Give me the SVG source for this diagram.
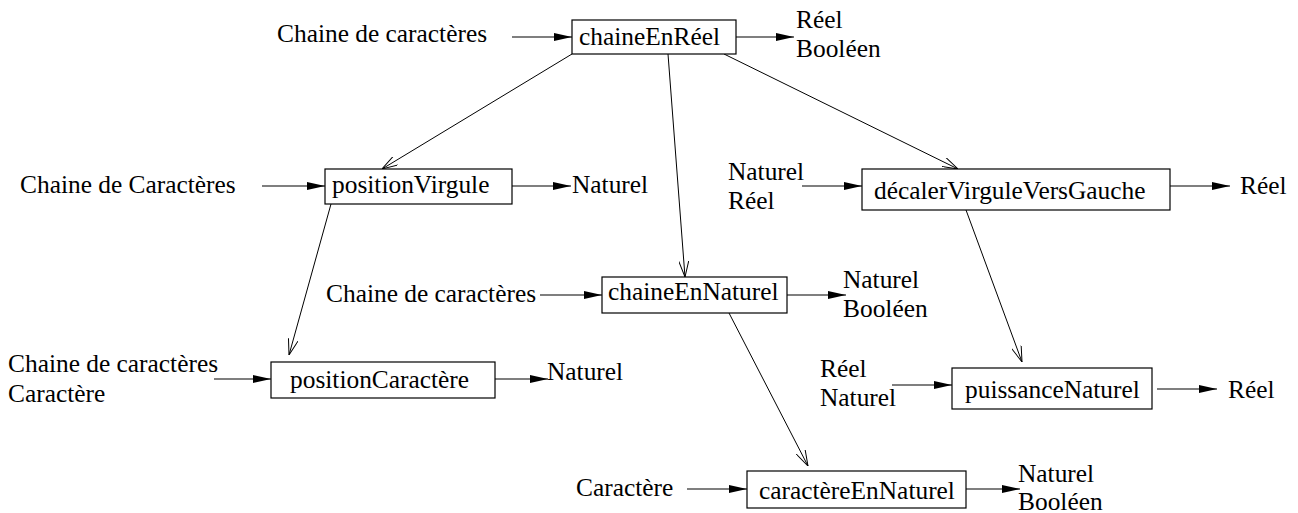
<svg xmlns="http://www.w3.org/2000/svg" width="1298" height="513" viewBox="0 0 1298 513">
<defs>
<marker id="fill" viewBox="0 0 18 8" refX="18" refY="4" markerWidth="18" markerHeight="8" markerUnits="userSpaceOnUse" orient="auto">
<path d="M0,0 L18,4 L0,8 Z" fill="#000"/>
</marker>
<marker id="open" viewBox="0 0 16 10" refX="16" refY="5" markerWidth="16" markerHeight="10" markerUnits="userSpaceOnUse" orient="auto">
<path d="M0,0 L16,5 L0,10" fill="none" stroke="#000" stroke-width="1"/>
</marker>
</defs>
<style>
.b{fill:#fff;stroke:#000;stroke-width:1.2}
.d{stroke:#000;stroke-width:1.2;fill:none;marker-end:url(#fill)}
.k{stroke:#000;stroke-width:1;fill:none;marker-end:url(#open)}
</style>
<rect width="1298" height="513" style="fill:#fff;stroke:none"/>
<g id="connectors">
<line class="d" x1="512" y1="37" x2="572" y2="37"/>
<line class="d" x1="736" y1="37" x2="794" y2="37"/>
<line class="d" x1="262" y1="186" x2="325" y2="186"/>
<line class="d" x1="512" y1="186" x2="571" y2="186"/>
<line class="d" x1="802" y1="186" x2="862" y2="186"/>
<line class="d" x1="1170" y1="186" x2="1230" y2="186"/>
<line class="d" x1="540" y1="295" x2="602" y2="295"/>
<line class="d" x1="787" y1="295" x2="846" y2="295"/>
<line class="d" x1="214" y1="379" x2="271" y2="379"/>
<line class="d" x1="495" y1="379" x2="548" y2="379"/>
<line class="d" x1="892" y1="385" x2="952" y2="385"/>
<line class="d" x1="1157" y1="389" x2="1217" y2="389"/>
<line class="d" x1="687" y1="489" x2="747" y2="489"/>
<line class="d" x1="966" y1="489" x2="1020" y2="489"/>
<line class="k" x1="572" y1="54" x2="382" y2="169"/>
<line class="k" x1="668" y1="54" x2="685" y2="277"/>
<line class="k" x1="724" y1="54" x2="958" y2="169"/>
<line class="k" x1="331" y1="204" x2="289" y2="355"/>
<line class="k" x1="966" y1="210" x2="1022" y2="362"/>
<line class="k" x1="729" y1="313" x2="808" y2="466"/>
</g>
<g font-family="Liberation Serif, Times New Roman, serif" font-size="25.4" fill="#000">
<g id="chaineEnReel">
<rect class="b" x="572" y="20" width="164" height="34"/>
<text x="579" y="45">chaineEnRéel</text>
<text x="277" y="42">Chaine de caractères</text>
<text x="796" y="28">Réel</text>
<text x="796" y="57">Booléen</text>
</g>
<g id="positionVirgule">
<rect class="b" x="325" y="169" width="187" height="35"/>
<text x="332" y="193">positionVirgule</text>
<text x="20" y="193">Chaine de Caractères</text>
<text x="572" y="193">Naturel</text>
</g>
<g id="decalerVirguleVersGauche">
<rect class="b" x="862" y="169" width="308" height="41"/>
<text x="874" y="199">décalerVirguleVersGauche</text>
<text x="728" y="180">Naturel</text>
<text x="728" y="209">Réel</text>
<text x="1240" y="194">Réel</text>
</g>
<g id="chaineEnNaturel">
<rect class="b" x="602" y="277" width="185" height="36"/>
<text x="608" y="300">chaineEnNaturel</text>
<text x="326" y="302">Chaine de caractères</text>
<text x="843" y="288">Naturel</text>
<text x="843" y="317">Booléen</text>
</g>
<g id="positionCaractere">
<rect class="b" x="271" y="362" width="224" height="36"/>
<text x="290" y="388">positionCaractère</text>
<text x="8" y="372">Chaine de caractères</text>
<text x="8" y="402">Caractère</text>
<text x="547" y="380">Naturel</text>
</g>
<g id="puissanceNaturel">
<rect class="b" x="952" y="368" width="200" height="41"/>
<text x="965" y="398">puissanceNaturel</text>
<text x="820" y="377">Réel</text>
<text x="820" y="406">Naturel</text>
<text x="1228" y="398">Réel</text>
</g>
<g id="caractereEnNaturel">
<rect class="b" x="747" y="471" width="219" height="37"/>
<text x="759" y="499">caractèreEnNaturel</text>
<text x="576" y="496">Caractère</text>
<text x="1018" y="482">Naturel</text>
<text x="1018" y="510">Booléen</text>
</g>
</g>
</svg>
